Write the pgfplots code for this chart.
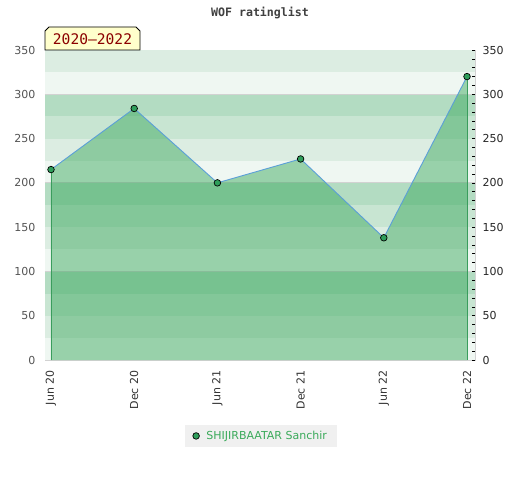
\documentclass[border=0pt]{standalone}
\usepackage{pgfplots}
\pgfplotsset{compat=1.18}
\usepackage{fontspec}
\setmainfont{DejaVu Sans}
\newfontfamily\monofont{DejaVu Sans Mono}
\definecolor{bandA}{HTML}{EFF7F2}
\definecolor{bandB}{HTML}{DCEDE2}
\definecolor{bandC}{HTML}{C8E5D2}
\definecolor{bandD}{HTML}{B3DCC2}
\definecolor{gridgray}{HTML}{D2D2D2}
\definecolor{fillgreen}{HTML}{30A354}
\definecolor{edgegreen}{HTML}{3A9D5D}
\definecolor{linblue}{HTML}{5B9FD8}
\definecolor{markgreen}{HTML}{2F9E5B}
\definecolor{legtext}{HTML}{3AAA5A}
\definecolor{legbg}{HTML}{F0F0F0}
\definecolor{boxfill}{HTML}{FFFFCC}
\definecolor{boxtext}{HTML}{8B0000}
\begin{document}
\begin{tikzpicture}[x=1pt,y=1pt]
\path[use as bounding box, fill=white] (0,0) rectangle (520,480);
\begin{axis}[
  at={(45pt,120pt)}, anchor=south west,
  scale only axis, width=430pt, height=310pt,
  xmin=-0.072, xmax=5.096, ymin=0, ymax=350,
  axis line style={draw=gridgray, line width=0.8pt},
  xtick={0,1,2,3,4,5},
  xticklabels={Jun 20,Dec 20,Jun 21,Dec 21,Jun 22,Dec 22},
  ytick={0,50,...,350},
  major tick length=0pt,
  /pgf/number format/assume math mode=true,
  xticklabel style={font=\fontsize{11}{13}\selectfont, text=black!80, yshift=-7pt, rotate=90, anchor=east},
  yticklabel style={font=\fontsize{11}{13}\selectfont, text=black!67, xshift=-6pt},
  legend style={at={(0.502,-0.245)}, anchor=center, fill=legbg, draw=none,
    font=\fontsize{11}{13}\selectfont, text=legtext, inner xsep=8pt, inner ysep=4pt},
  clip=true,
]
\fill[bandA] (axis cs:-0.072,0) rectangle (axis cs:5.096,25);
\fill[bandB] (axis cs:-0.072,25) rectangle (axis cs:5.096,50);
\fill[bandC] (axis cs:-0.072,50) rectangle (axis cs:5.096,75);
\fill[bandD] (axis cs:-0.072,75) rectangle (axis cs:5.096,100);
\fill[bandA] (axis cs:-0.072,100) rectangle (axis cs:5.096,125);
\fill[bandB] (axis cs:-0.072,125) rectangle (axis cs:5.096,150);
\fill[bandC] (axis cs:-0.072,150) rectangle (axis cs:5.096,175);
\fill[bandD] (axis cs:-0.072,175) rectangle (axis cs:5.096,200);
\fill[bandA] (axis cs:-0.072,200) rectangle (axis cs:5.096,225);
\fill[bandB] (axis cs:-0.072,225) rectangle (axis cs:5.096,250);
\fill[bandC] (axis cs:-0.072,250) rectangle (axis cs:5.096,275);
\fill[bandD] (axis cs:-0.072,275) rectangle (axis cs:5.096,300);
\fill[bandA] (axis cs:-0.072,300) rectangle (axis cs:5.096,325);
\fill[bandB] (axis cs:-0.072,325) rectangle (axis cs:5.096,350);
\draw[gridgray, line width=0.8pt] (axis cs:-0.072,100) -- (axis cs:5.096,100);
\draw[gridgray, line width=0.8pt] (axis cs:-0.072,200) -- (axis cs:5.096,200);
\draw[gridgray, line width=0.8pt] (axis cs:-0.072,300) -- (axis cs:5.096,300);
\addplot[forget plot, draw=none, fill=fillgreen, fill opacity=0.45]
  coordinates {(0,215) (1,284) (2,200) (3,227) (4,138) (5,320)} \closedcycle;
\addplot[forget plot, edgegreen, line width=0.9pt] coordinates {(0,0) (0,215)};
\addplot[forget plot, edgegreen, line width=0.9pt] coordinates {(5,0) (5,320)};
\addplot[forget plot, linblue, line width=0.9pt]
  coordinates {(0,215) (1,284) (2,200) (3,227) (4,138) (5,320)};
\addplot[only marks, mark=*, mark size=3.3pt, mark options={fill=markgreen, draw=black, line width=0.7pt}]
  coordinates {(0,215) (1,284) (2,200) (3,227) (4,138) (5,320)};
\addlegendentry{\hspace{5pt}SHIJIRBAATAR Sanchir}
\end{axis}
\begin{axis}[
  at={(45pt,120pt)}, anchor=south west,
  scale only axis, width=430pt, height=310pt,
  xmin=-0.072, xmax=5.096, ymin=0, ymax=350,
  axis x line=none, axis y line*=right,
  y axis line style={draw=none},
  ytick={0,50,...,350},
  minor ytick={10,20,30,40,60,70,80,90,110,120,130,140,160,170,180,190,210,220,230,240,260,270,280,290,310,320,330,340},
  tick align=inside,
  major tick length=3pt, minor tick length=3pt,
  every tick/.style={black, line width=0.6pt},
  /pgf/number format/assume math mode=true,
  yticklabel style={font=\fontsize{11}{13}\selectfont, text=black!85, xshift=4pt},
]
\addplot[draw=none] coordinates {(0,0)};
\end{axis}
\node[font=\monofont\bfseries\fontsize{11.6}{13}\selectfont, text=black!75] at (260,467) {WOF ratinglist};
\draw[fill=boxfill, draw=black, line width=0.8pt] (45,430) -- (45,449) -- (49,453) -- (136,453) -- (140,449) -- (140,430) -- cycle;
\node[font=\monofont\fontsize{14.6}{16}\selectfont, text=boxtext] at (92.5,441) {2020–2022};
\end{tikzpicture}
\end{document}
